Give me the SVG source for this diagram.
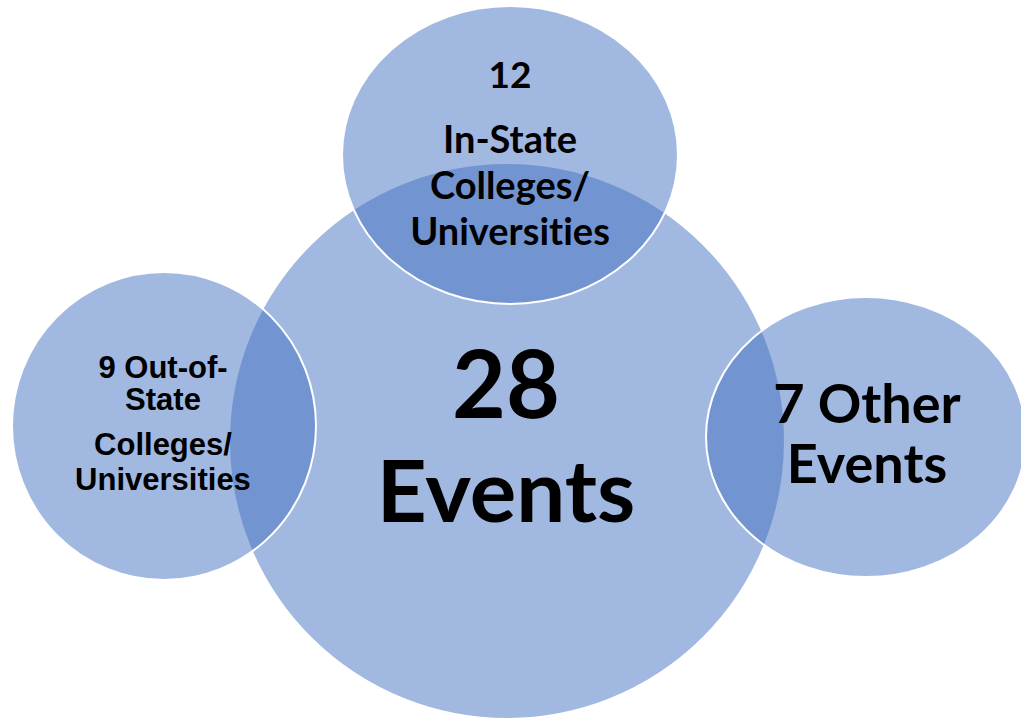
<svg xmlns="http://www.w3.org/2000/svg" width="1021" height="723" viewBox="0 0 1021 723">
<style>
.c{fill:#4472C4;fill-opacity:0.5;stroke:#FFFFFF;stroke-width:2}
.cal{font-family:Lato,"Open Sans",sans-serif;font-weight:bold;fill:#000;text-anchor:middle;font-variant-ligatures:none}
.ari{font-family:"Liberation Sans",Arial,sans-serif;font-weight:bold;fill:#000;text-anchor:middle}
</style>
<rect width="1021" height="723" fill="#FFFFFF"/>
<g id="center">
<circle class="c" cx="507" cy="441" r="278"/>
</g>
<g id="top">
<ellipse class="c" cx="510" cy="155" rx="168" ry="149"/>
</g>
<g id="left">
<ellipse class="c" cx="164" cy="426" rx="152" ry="154"/>
</g>
<g id="right">
<ellipse class="c" cx="866" cy="437" rx="160" ry="140"/>
</g>
<g id="center-text">
<text class="cal" x="506" y="418" font-size="93">28</text>
<text class="cal" x="506" y="522" font-size="87">Events</text>
</g>
<g id="top-text">
<text class="cal" x="510" y="88" font-size="37">12</text>
<text class="cal" x="510" y="153" font-size="38">In-State</text>
<text class="cal" x="510" y="199" font-size="38">Colleges/</text>
<text class="cal" x="510" y="245" font-size="38">Universities</text>
</g>
<g id="left-text">
<text class="ari" x="163" y="378" font-size="31">9 Out-of-</text>
<text class="ari" x="163" y="410" font-size="31">State</text>
<text class="ari" x="163" y="455" font-size="31">Colleges/</text>
<text class="ari" x="163" y="490" font-size="31">Universities</text>
</g>
<g id="right-text">
<text class="cal" x="867" y="423" font-size="54">7 Other</text>
<text class="cal" x="867" y="483" font-size="54">Events</text>
</g>
</svg>
